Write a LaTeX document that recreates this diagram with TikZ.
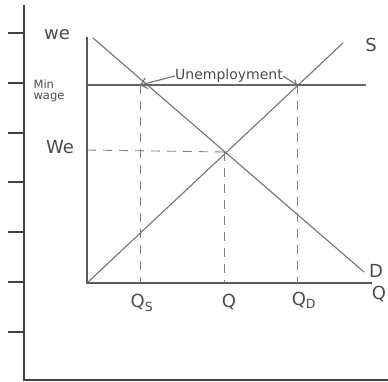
\documentclass[tikz,border=0pt]{standalone}
\usepackage{fontspec}
\setmainfont{DejaVu Sans}
\usetikzlibrary{arrows.meta}
\begin{document}
\begin{tikzpicture}[x=1pt,y=-1pt,
  frame/.style={draw=black!75,line width=1.3pt},
  curve/.style={draw=black!55,line width=1.1pt},
  guide/.style={draw=black!50,line width=0.9pt,dash pattern=on 9pt off 7pt},
  lbl/.style={font=\fontsize{18}{19}\selectfont,text=black!70,inner sep=0pt},
  small/.style={font=\fontsize{11.5}{11}\selectfont,text=black!70,inner sep=0pt,align=left}]
\useasboundingbox (0,0) rectangle (388,381);
% outer frame
\coordinate (ft) at (24,5);
\coordinate (fb) at (24,380);
\coordinate (fr) at (388,380);
\draw[frame] (ft) -- (fb) -- (fr);
\foreach \y [count=\i] in {33,83,133,182,232,282,332}{
  \coordinate (tl\i) at (8,\y);
  \coordinate (tr\i) at (24,\y);
  \draw[frame] (tl\i) -- (tr\i);
}
% inner axes
\coordinate (O) at (87,283);
\coordinate (yt) at (87,37);
\coordinate (xr) at (372,283);
\draw[frame,line width=1.1pt,draw=black!65] (yt) -- (O) -- (xr);
% demand and supply
\coordinate (d1) at (93,38);
\coordinate (d2) at (364,272);
\coordinate (s2) at (343,43);
\draw[curve] (d1) -- (d2);
\draw[curve] (O) -- (s2);
% min wage
\coordinate (mw1) at (87,85);
\coordinate (mw2) at (366,85);
\draw[curve,draw=black!60] (mw1) -- (mw2);
% guides
\coordinate (E) at (224,152);
\coordinate (Ey) at (87,150);
\coordinate (Qx) at (224,283);
\coordinate (QSt) at (140,85);
\coordinate (QSb) at (140,283);
\coordinate (QDt) at (297,85);
\coordinate (QDb) at (297,283);
\draw[guide] (Ey) -- (E);
\draw[guide] (E) -- (Qx);
\draw[guide] (QSt) -- (QSb);
\draw[guide] (QDt) -- (QDb);
% unemployment
\node[lbl,font=\fontsize{14}{15}\selectfont] (un) at (229,76) {Unemployment};
\draw[curve,-{Straight Barb[length=6pt,width=11pt]}] (un.west) -- (QSt);
\draw[curve,-{Straight Barb[length=4pt,width=7pt]}] (un.east) -- (QDt);
% labels
\node[lbl] (we1) at (57,35) {we};
\node[small] (mw) at (49,91) {Min\\wage};
\node[lbl] (we2) at (60,147) {We};
\node[lbl] (S) at (371,45) {S};
\node[lbl] (D) at (376,271) {D};
\node[lbl] (Q2) at (379,294) {Q};
\node[lbl] (Qs) at (142,303) {Q\textsubscript{S}};
\node[lbl] (Q) at (229,302) {Q};
\node[lbl] (QD) at (304,300) {Q\textsubscript{D}};
\end{tikzpicture}
\end{document}
